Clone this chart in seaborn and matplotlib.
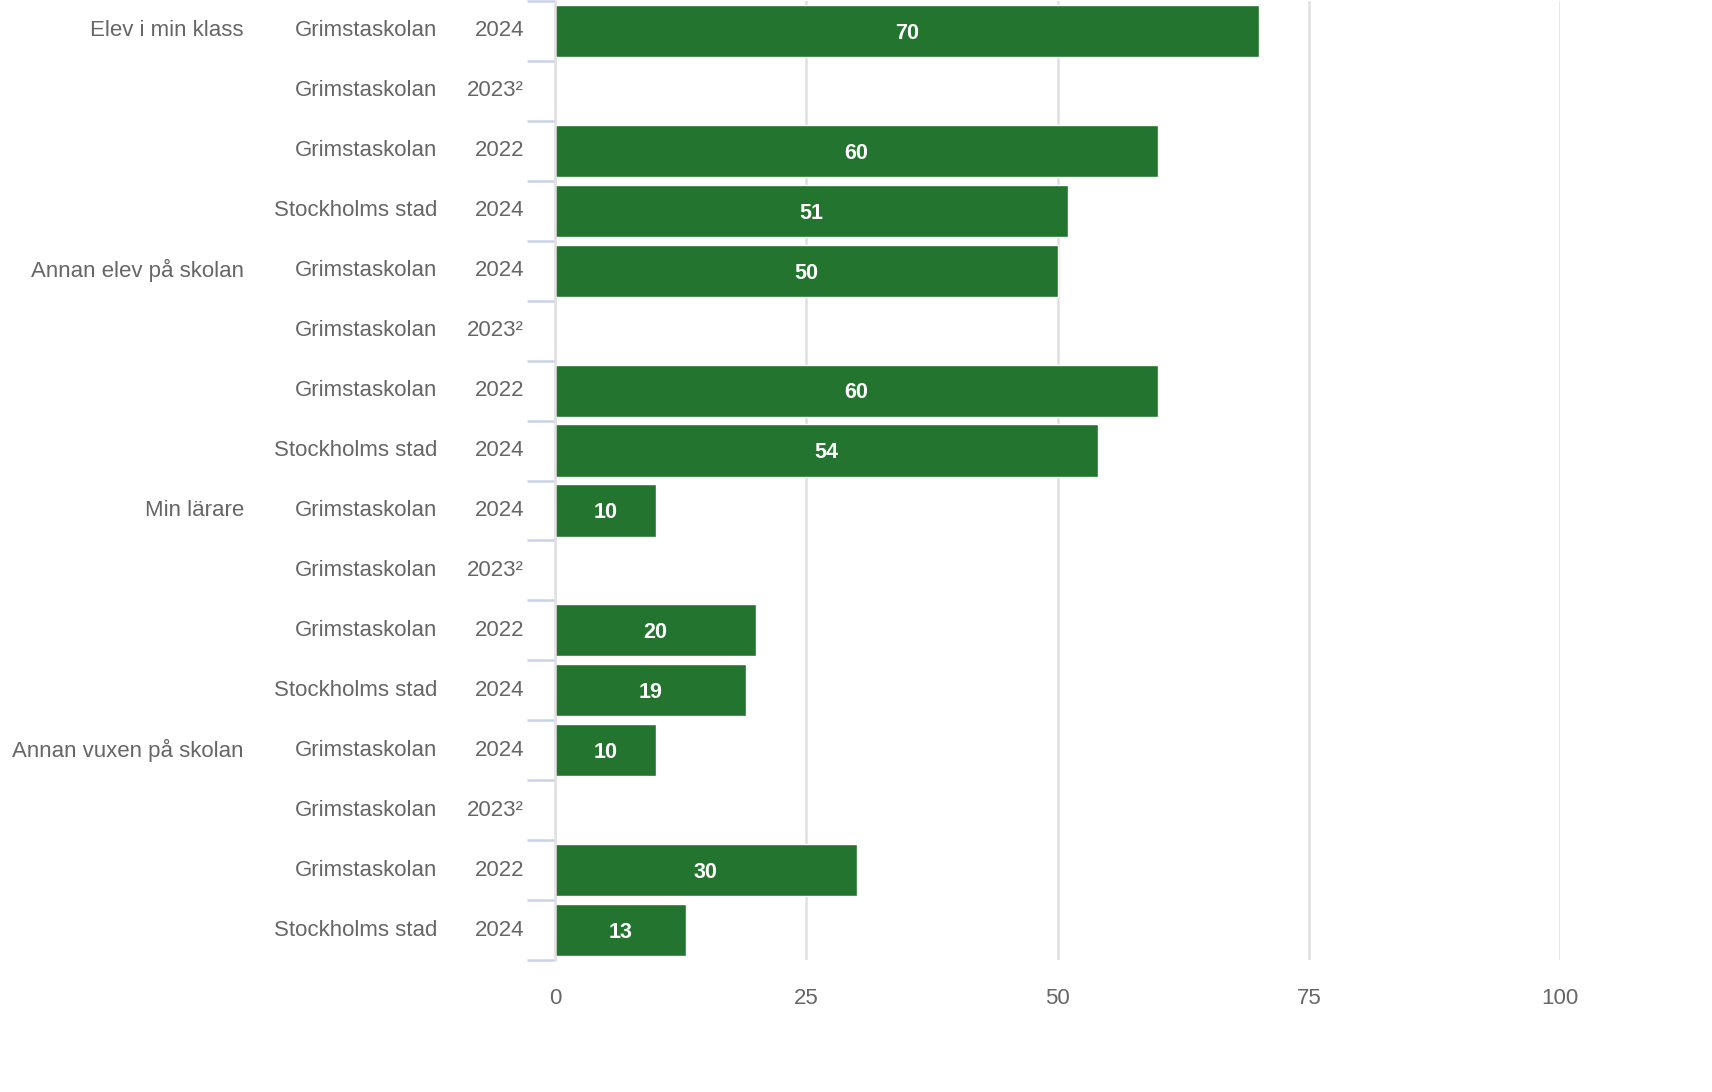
import numpy as np
import pandas as pd
import matplotlib
matplotlib.use('Agg')
import matplotlib.pyplot as plt
import seaborn as sns

groups = ['Elev i min klass', 'Annan elev på skolan', 'Min lärare', 'Annan vuxen på skolan']
units = ['Grimstaskolan', 'Grimstaskolan', 'Grimstaskolan', 'Stockholms stad']
years = ['2024', '2023²', '2022', '2024']
values = [70, np.nan, 60, 51,
          50, np.nan, 60, 54,
          10, np.nan, 20, 19,
          10, np.nan, 30, 13]
x_ticks = [0, 25, 50, 75, 100]

rows = []
for gi, g in enumerate(groups):
    for ui in range(len(units)):
        rows.append({'row': f'{gi}-{ui}', 'group': g if ui == 0 else '',
                     'unit': units[ui], 'year': years[ui],
                     'value': values[gi * len(units) + ui]})
df = pd.DataFrame(rows)

sns.set_style('white')
plt.rcParams['font.family'] = ['Liberation Sans', 'DejaVu Sans']

fig = plt.figure(figsize=(17.12, 10.92), dpi=100)
ax = fig.add_axes([555 / 1712, 1 - 960 / 1092, 1005 / 1712, 959 / 1092])

sns.barplot(data=df, x='value', y='row', order=df['row'].tolist(), orient='h',
            color='#23742e', saturation=1, width=0.87, ax=ax, errorbar=None)

ax.set_xlim(0, 100)
ax.set_ylim(len(df) - 0.5, -0.5)
ax.set_xticks(x_ticks)
ax.set_xticklabels([str(t) for t in x_ticks])
ax.tick_params(axis='x', length=0, pad=20, labelsize=16, labelcolor='#666666')
ax.xaxis.grid(True, color='#e0e0e0', linewidth=1.8)
ax.set_axisbelow(True)

ax.set_yticks(np.arange(-0.5, len(df), 1))
ax.set_yticklabels([])
ax.tick_params(axis='y', left=True, length=20, width=1.8, color='#c8d2ea')

for s in ['top', 'right', 'bottom']:
    ax.spines[s].set_visible(False)
ax.spines['left'].set_color('#e0e0e0')
ax.spines['left'].set_linewidth(1.8)
ax.set_xlabel('')
ax.set_ylabel('')

trans = ax.get_yaxis_transform()
for i, r in df.iterrows():
    ax.text(-311 / 1005, i, r['group'], transform=trans, ha='right', va='center',
            fontsize=16, color='#666666')
    ax.text(-118 / 1005, i, r['unit'], transform=trans, ha='right', va='center',
            fontsize=16, color='#666666')
    ax.text(-31 / 1005, i, r['year'], transform=trans, ha='right', va='center',
            fontsize=16, color='#666666')
    if not np.isnan(r['value']):
        ax.text(r['value'] / 2, i + 0.04, f"{r['value']:.0f}", ha='center', va='center',
                fontsize=15.5, color='white', fontweight='bold')

fig.savefig('out.png', dpi=100)
